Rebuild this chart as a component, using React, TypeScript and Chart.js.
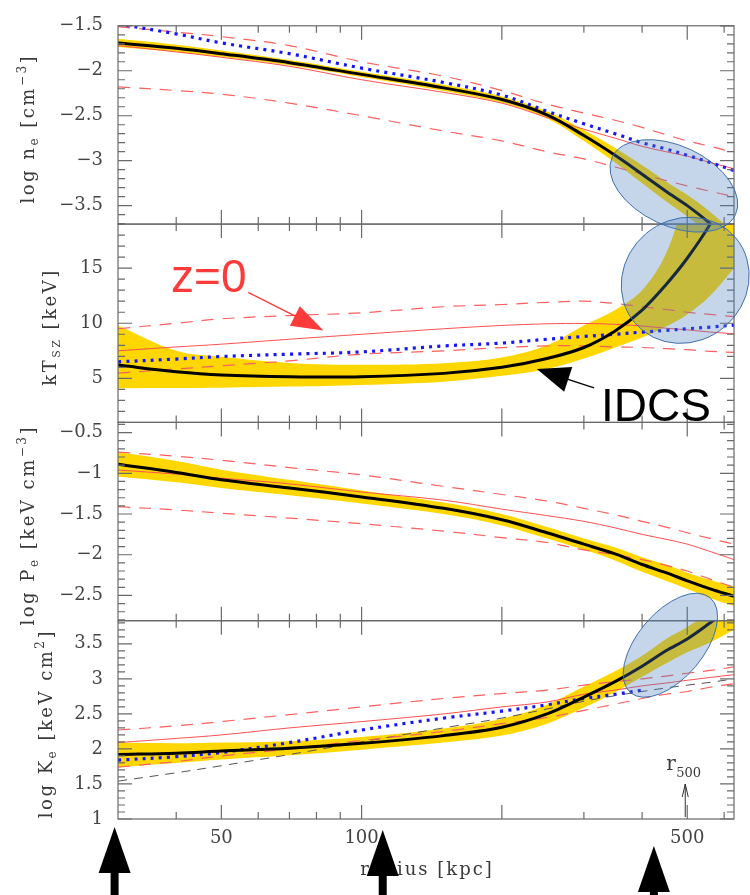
import React, { useEffect, useRef } from 'react';
import { Chart, registerables } from 'chart.js';

// clip every dataset to its own panel (stacked y axes share one chart area)
const panelClip = {
  id: 'panelClip',
  beforeDatasetDraw(chart: any, args: any) {
    const { xScale, yScale } = args.meta;
    const ctx = chart.ctx;
    ctx.save();
    ctx.beginPath();
    ctx.rect(xScale.left, yScale.top, xScale.right - xScale.left, yScale.bottom - yScale.top);
    ctx.clip();
  },
  afterDatasetDraw(chart: any) {
    chart.ctx.restore();
  },
};
Chart.register(panelClip);
Chart.register(...registerables);

const SERIF = '"DejaVu Serif", serif';
const SANS = '"Liberation Sans", Arial, sans-serif';

// ---------------- data ----------------
const radii = [30, 40, 50, 70, 100, 150, 200, 250, 300, 350, 400, 450, 500, 560, 630];

// panel 1: log n_e
const neIDCS = [-1.69, -1.75, -1.81, -1.91, -2.04, -2.19, -2.32, -2.49, -2.72, -2.94, -3.15, -3.34, -3.5, -3.7, -3.95];
const neBandHi = [-1.645, -1.71, -1.775, -1.88, -2.01, -2.155, -2.285, -2.45, -2.66, -2.86, -3.05, -3.23, -3.38, -3.57, -3.8];
const neBandLo = [-1.735, -1.79, -1.845, -1.94, -2.07, -2.225, -2.355, -2.53, -2.78, -3.02, -3.25, -3.45, -3.62, -3.83, -4.1];
const neBlue = [-1.48, -1.59, -1.69, -1.81, -1.97, -2.13, -2.27, -2.45, -2.59, -2.7, -2.8, -2.87, -2.94, -3.02, -3.11];
const neZ0 = [-1.72, -1.79, -1.85, -1.95, -2.1, -2.24, -2.36, -2.52, -2.65, -2.75, -2.84, -2.9, -2.95, -3.02, -3.09];
const neZ0Hi = [-1.51, -1.57, -1.62, -1.72, -1.9, -2.06, -2.22, -2.37, -2.47, -2.55, -2.63, -2.71, -2.78, -2.84, -2.91];
const neZ0Lo = [-2.18, -2.22, -2.26, -2.36, -2.5, -2.67, -2.78, -2.9, -2.98, -3.07, -3.15, -3.22, -3.28, -3.34, -3.4];

// panel 2: kT_SZ
const ktIDCS = [6.2, 5.6, 5.3, 5.14, 5.14, 5.45, 6.0, 6.8, 7.8, 9.3, 11.2, 13.5, 15.9, 19.0, 23.0];
const ktBandHi = [9.8, 7.5, 6.95, 6.4, 6.23, 6.38, 6.9, 8.0, 9.8, 11.2, 13.0, 16.3, 22, 27, 31];
const ktBandLo = [4.1, 4.12, 4.15, 4.25, 4.4, 4.7, 5.23, 5.85, 6.8, 7.8, 8.7, 9.7, 10.8, 12.5, 15.0];
const ktBlue = [6.5, 6.75, 6.98, 7.19, 7.4, 7.94, 8.2, 8.55, 8.8, 9.0, 9.2, 9.35, 9.5, 9.65, 9.83];
const ktZ0 = [7.5, 7.85, 8.1, 8.55, 9.0, 9.5, 9.8, 9.95, 9.98, 9.9, 9.75, 9.55, 9.4, 9.2, 9.05];
const ktZ0Hi = [9.5, 10.0, 10.4, 10.7, 10.95, 11.5, 11.7, 11.9, 12.0, 11.8, 11.5, 11.25, 11.0, 10.8, 10.6];
const ktZ0Lo = [5.48, 5.85, 6.14, 6.59, 7.19, 7.49, 7.79, 7.95, 7.95, 7.85, 7.8, 7.7, 7.6, 7.45, 7.35];

// panel 3: log P_e
const peIDCS = [-0.89, -0.99, -1.08, -1.18, -1.29, -1.43, -1.57, -1.73, -1.87, -1.99, -2.12, -2.22, -2.32, -2.42, -2.51];
const peBandHi = [-0.74, -0.85, -0.955, -1.08, -1.21, -1.36, -1.5, -1.66, -1.8, -1.91, -2.03, -2.12, -2.22, -2.31, -2.39];
const peBandLo = [-1.04, -1.11, -1.18, -1.27, -1.37, -1.5, -1.64, -1.8, -1.94, -2.07, -2.21, -2.32, -2.42, -2.53, -2.63];
const peZ0 = [-0.96, -1.01, -1.06, -1.13, -1.23, -1.33, -1.44, -1.52, -1.59, -1.67, -1.75, -1.81, -1.87, -1.96, -2.06];
const peZ0Hi = [-0.74, -0.79, -0.84, -0.93, -1.02, -1.16, -1.26, -1.34, -1.43, -1.51, -1.59, -1.66, -1.73, -1.8, -1.87];
const peZ0Lo = [-1.41, -1.45, -1.49, -1.55, -1.62, -1.71, -1.79, -1.85, -1.94, -2.0, -2.06, -2.13, -2.2, -2.3, -2.4];

// panel 4: log K_e
const keIDCS = [1.92, 1.94, 1.97, 2.01, 2.08, 2.19, 2.31, 2.5, 2.74, 2.96, 3.18, 3.4, 3.57, 3.8, 4.05];
const keBandHi = [2.09, 2.08, 2.09, 2.11, 2.17, 2.29, 2.43, 2.63, 2.89, 3.11, 3.33, 3.57, 3.74, 3.97, 4.25];
const keBandLo = [1.74, 1.8, 1.85, 1.91, 1.99, 2.09, 2.19, 2.36, 2.59, 2.81, 3.03, 3.22, 3.38, 3.52, 3.7];
const keBlue = [1.84, 1.89, 1.95, 2.09, 2.27, 2.44, 2.54, 2.63, 2.72, 2.78, 2.84, null, null, null, null];
const keZ0 = [2.09, 2.15, 2.2, 2.3, 2.39, 2.5, 2.6, 2.67, 2.78, 2.84, 2.9, 2.94, 2.98, 3.02, 3.06];
const keZ0Hi = [2.27, 2.33, 2.39, 2.49, 2.6, 2.72, 2.79, 2.84, 2.91, 2.96, 3.0, 3.04, 3.08, 3.12, 3.17];
const keZ0Lo = [1.74, 1.82, 1.9, 2.0, 2.12, 2.25, 2.36, 2.45, 2.55, 2.64, 2.72, 2.78, 2.82, 2.88, 2.93];
const keBase = [1.54, 1.66, 1.76, 1.92, 2.1, 2.3, 2.44, 2.57, 2.68, 2.76, 2.82, 2.87, 2.91, 2.95, 3.0];

// ticks
const xTickLabels = [50, 100, 500];
const xMajorMarks = [50, 100, 200, 500];
const xMinorMarks = [40, 60, 70, 80, 90, 300, 400, 600];
const neTicks = [-3.5, -3, -2.5, -2, -1.5];
const ktTicks = [5, 10, 15];
const peTicks = [-2.5, -2, -1.5, -1, -0.5];
const keTicks = [1, 1.5, 2, 2.5, 3, 3.5];

// ---------------- styles ----------------
const RED = 'rgb(255,80,80)';
const RED_D = 'rgb(255,95,95)';
const BLUE = '#1414ff';
const YELLOW = '#ffd700';
const DASH = [12, 9];
const DOT = [3, 5.2];
const TENSION = 0.35;

function pts(vals: (number | null)[]) {
  return radii.map((r, i) => ({ x: r, y: vals[i] })).filter((p) => p.y !== null);
}

function line(axis: string, vals: (number | null)[], color: string, width: number, dash: number[], order: number) {
  return {
    data: pts(vals), xAxisID: 'x', yAxisID: axis, borderColor: color, borderWidth: width,
    borderDash: dash, borderCapStyle: 'butt', pointRadius: 0, pointHoverRadius: 0, fill: false,
    order, tension: TENSION,
  };
}

function band(axis: string, lo: number[], hi: number[]) {
  const common = {
    xAxisID: 'x', yAxisID: axis, borderColor: 'rgba(0,0,0,0)', borderWidth: 0,
    pointRadius: 0, pointHoverRadius: 0, order: 10, tension: TENSION,
  };
  return [
    { ...common, data: pts(lo), fill: false },
    { ...common, data: pts(hi), fill: '-1', backgroundColor: YELLOW },
  ];
}

const datasets: any[] = [
  ...band('yN', neBandLo, neBandHi),
  line('yN', neZ0Hi, RED_D, 1.2, DASH, 3),
  line('yN', neZ0Lo, RED_D, 1.2, DASH, 3),
  line('yN', neZ0, RED, 1, [], 3),
  line('yN', neBlue, BLUE, 3.2, DOT, 2),
  line('yN', neIDCS, '#000', 3, [], 1),

  ...band('yT', ktBandLo, ktBandHi),
  line('yT', ktZ0Hi, RED_D, 1.2, DASH, 3),
  line('yT', ktZ0Lo, RED_D, 1.2, DASH, 3),
  line('yT', ktZ0, RED, 1, [], 3),
  line('yT', ktBlue, BLUE, 3.2, DOT, 2),
  line('yT', ktIDCS, '#000', 3, [], 1),

  ...band('yP', peBandLo, peBandHi),
  line('yP', peZ0Hi, RED_D, 1.2, DASH, 3),
  line('yP', peZ0Lo, RED_D, 1.2, DASH, 3),
  line('yP', peZ0, RED, 1, [], 3),
  line('yP', peIDCS, '#000', 3, [], 1),

  ...band('yK', keBandLo, keBandHi),
  line('yK', keZ0Hi, RED_D, 1.2, DASH, 3),
  line('yK', keZ0Lo, RED_D, 1.2, DASH, 3),
  line('yK', keZ0, RED, 1, [], 3),
  line('yK', keBase, '#555', 1, [9, 7], 3),
  line('yK', keBlue, BLUE, 3.2, DOT, 2),
  line('yK', keIDCS, '#000', 3, [], 1),
];

const panelDefs = [
  {
    axis: 'yN', minor: 0.1, ticks: neTicks, titleX: 34,
    title: [{ t: 'log n', s: 18 }, { t: 'e', s: 12, dy: 4 }, { t: ' [cm', s: 18 }, { t: '−3', s: 12, dy: -8 }, { t: ']', s: 18 }],
  },
  {
    axis: 'yT', minor: 1, ticks: ktTicks, titleX: 56,
    title: [{ t: 'kT', s: 18 }, { t: 'SZ', s: 11, dy: 4 }, { t: ' [keV]', s: 18 }],
  },
  {
    axis: 'yP', minor: 0.1, ticks: peTicks, titleX: 34,
    title: [{ t: 'log P', s: 18 }, { t: 'e', s: 12, dy: 4 }, { t: ' [keV cm', s: 18 }, { t: '−3', s: 12, dy: -8 }, { t: ']', s: 18 }],
  },
  {
    axis: 'yK', minor: 0.1, ticks: keTicks, titleX: 52,
    title: [{ t: 'log K', s: 18 }, { t: 'e', s: 12, dy: 4 }, { t: ' [keV cm', s: 18 }, { t: '2', s: 12, dy: -8 }, { t: ']', s: 18 }],
  },
];

const ellipses = [
  { axis: 'yN', r: 468, v: -3.28, a: 68, b: 40, rot: 25 },
  { axis: 'yT', r: 495, v: 13.9, a: 66, b: 61, rot: -40 },
  { axis: 'yK', r: 460, v: 3.48, a: 62, b: 33, rot: -50 },
];

function drawRich(ctx: CanvasRenderingContext2D, parts: any[], cx: number, cy: number, rotate: boolean, ls: number, color: string) {
  ctx.save();
  ctx.translate(cx, cy);
  if (rotate) ctx.rotate(-Math.PI / 2);
  ctx.fillStyle = color;
  ctx.textBaseline = 'alphabetic';
  ctx.textAlign = 'left';
  let total = 0;
  for (const p of parts) {
    ctx.font = `${p.s}px ${SERIF}`;
    for (const ch of p.t) total += ctx.measureText(ch).width + ls;
  }
  total -= ls;
  let x = -total / 2;
  for (const p of parts) {
    ctx.font = `${p.s}px ${SERIF}`;
    for (const ch of p.t) {
      ctx.fillText(ch, x, p.dy || 0);
      x += ctx.measureText(ch).width + ls;
    }
  }
  ctx.restore();
}

function arrow(ctx: CanvasRenderingContext2D, x0: number, y0: number, x1: number, y1: number, head: number, half: number, color: string, lw: number) {
  const dx = x1 - x0, dy = y1 - y0;
  const L = Math.hypot(dx, dy);
  const ux = dx / L, uy = dy / L;
  const bx = x1 - ux * head, by = y1 - uy * head;
  ctx.save();
  ctx.strokeStyle = color;
  ctx.lineWidth = lw;
  ctx.beginPath();
  ctx.moveTo(x0, y0);
  ctx.lineTo(bx + ux, by + uy);
  ctx.stroke();
  ctx.fillStyle = color;
  ctx.beginPath();
  ctx.moveTo(x1, y1);
  ctx.lineTo(bx - uy * half, by + ux * half);
  ctx.lineTo(bx + uy * half, by - ux * half);
  ctx.closePath();
  ctx.fill();
  ctx.restore();
}

const decor = {
  id: 'decor',
  afterDatasetsDraw(chart: any) {
    const ctx: CanvasRenderingContext2D = chart.ctx;
    const xs = chart.scales.x;
    const FRAME = '#6a6a6a';
    // frames + inward tick marks
    for (const p of panelDefs) {
      const ys = chart.scales[p.axis];
      const L = xs.left, R = xs.right, T = ys.top, B = ys.bottom;
      ctx.save();
      ctx.strokeStyle = FRAME;
      ctx.lineWidth = 1.2;
      ctx.strokeRect(L, T, R - L, B - T);
      ctx.beginPath();
      const xm = (v: number, len: number) => {
        const px = xs.getPixelForValue(v);
        ctx.moveTo(px, B); ctx.lineTo(px, B - len);
        ctx.moveTo(px, T); ctx.lineTo(px, T + len);
      };
      xMajorMarks.forEach((v) => xm(v, 14));
      xMinorMarks.forEach((v) => xm(v, 7));
      const min = ys.min, max = ys.max, st = p.minor;
      for (let k = Math.ceil(min / st - 1e-9); k * st <= max + 1e-9; k++) {
        const v = k * st;
        const major = p.ticks.some((t) => Math.abs(t - v) < 1e-6);
        const len = major ? 14 : 7;
        const py = ys.getPixelForValue(v);
        ctx.moveTo(L, py); ctx.lineTo(L + len, py);
        ctx.moveTo(R, py); ctx.lineTo(R - len, py);
      }
      ctx.stroke();
      ctx.restore();
    }
    // ellipses
    for (const e of ellipses) {
      const ys = chart.scales[e.axis];
      const cx = xs.getPixelForValue(e.r), cy = ys.getPixelForValue(e.v);
      ctx.save();
      ctx.beginPath();
      ctx.ellipse(cx, cy, e.a, e.b, (e.rot * Math.PI) / 180, 0, Math.PI * 2);
      ctx.fillStyle = 'rgba(79,129,189,0.32)';
      ctx.fill();
      ctx.strokeStyle = 'rgba(55,105,170,0.95)';
      ctx.lineWidth = 1;
      ctx.stroke();
      ctx.restore();
    }
    // annotations in panel 2
    const yT = chart.scales.yT;
    const X = (r: number) => xs.getPixelForValue(r);
    ctx.save();
    ctx.fillStyle = '#ff3a3a';
    ctx.font = `46px ${SANS}`;
    ctx.textAlign = 'left';
    ctx.textBaseline = 'alphabetic';
    ctx.fillText('z=0', X(39), yT.getPixelForValue(12.8));
    ctx.fillStyle = '#000';
    ctx.fillText('IDCS', X(326.6), yT.getPixelForValue(1.15));
    ctx.restore();
    arrow(ctx, X(57.1), yT.getPixelForValue(12.8), X(82.8), yT.getPixelForValue(9.35), 32, 11, '#ff3a3a', 1.3);
    arrow(ctx, X(315.5), yT.getPixelForValue(4.13), X(237.8), yT.getPixelForValue(5.84), 33, 13, '#000', 1.3);
  },
  afterDraw(chart: any) {
    const ctx: CanvasRenderingContext2D = chart.ctx;
    const xs = chart.scales.x;
    const TXT = '#3a3a3a';
    for (const p of panelDefs) {
      const ys = chart.scales[p.axis];
      drawRich(ctx, p.title, p.titleX, (ys.top + ys.bottom) / 2 + 5, true, 2.5, TXT);
    }
    drawRich(ctx, [{ t: 'radius [kpc]', s: 18 }], (xs.left + xs.right) / 2, 875, false, 2, TXT);
    // r500 marker
    const x500 = xs.getPixelForValue(500) - 2;
    ctx.save();
    ctx.fillStyle = TXT;
    ctx.font = `20px ${SERIF}`;
    ctx.textBaseline = 'alphabetic';
    ctx.fillText('r', x500 - 19, 770);
    ctx.font = `13px ${SERIF}`;
    ctx.fillText('500', x500 - 9, 777);
    ctx.strokeStyle = '#333';
    ctx.lineWidth = 1;
    ctx.beginPath();
    ctx.moveTo(x500, xs.top - 2);
    ctx.lineTo(x500, 784);
    ctx.moveTo(x500 - 3, 797);
    ctx.lineTo(x500, 784);
    ctx.lineTo(x500 + 3, 797);
    ctx.stroke();
    ctx.restore();
    // big arrows below the axis
    const big = [
      { r: 29.5, tip: 827 },
      { r: 111, tip: 830 },
      { r: 424, tip: 846 },
    ];
    for (const b of big) {
      const x = xs.getPixelForValue(b.r);
      arrow(ctx, x, 900, x, b.tip, 46, 16, '#000', 8);
    }
  },
};

const fmt = (v: number) => (v < 0 ? '−' + String(Math.abs(v)) : String(v));

function yScale(min: number, max: number, ticks: number[]) {
  return {
    type: 'linear', position: 'left', stack: 'panels', stackWeight: 1, offset: false, min, max,
    grid: { display: false, drawTicks: false }, border: { display: false },
    ticks: { font: { family: SERIF, size: 18 }, color: '#444', padding: 15, autoSkip: false, callback: fmt },
    afterBuildTicks: (s: any) => { s.ticks = ticks.map((v) => ({ value: v })); },
    afterFit: (s: any) => { s.width = 118; },
  };
}

export default function App() {
  const ref = useRef<HTMLCanvasElement>(null);
  useEffect(() => {
    const chart = new Chart(ref.current as HTMLCanvasElement, {
      type: 'line',
      data: { datasets },
      options: {
        animation: false,
        responsive: false,
        events: [],
        layout: { padding: { left: 0, right: 16, top: 19, bottom: 0 } },
        plugins: { legend: { display: false }, tooltip: { enabled: false } },
        scales: {
          x: {
            type: 'logarithmic', position: 'bottom', min: 30, max: 630,
            grid: { display: false, drawTicks: false }, border: { display: false },
            ticks: { font: { family: SERIF, size: 18 }, color: '#444', padding: 9, autoSkip: false, maxRotation: 0, callback: (v: any) => String(v) },
            afterBuildTicks: (s: any) => { s.ticks = xTickLabels.map((v) => ({ value: v })); },
            afterFit: (s: any) => { s.height = 76; },
          },
          yK: yScale(1, 3.83, keTicks),
          yP: yScale(-2.81, -0.375, peTicks),
          yT: yScale(1, 19, ktTicks),
          yN: yScale(-3.705, -1.5, neTicks),
        },
      } as any,
      plugins: [decor],
    } as any);
    return () => chart.destroy();
  }, []);
  return (
    <div style={{ position: 'absolute', left: 0, top: 0, width: 750, height: 895, background: '#fff' }}>
      <canvas ref={ref} width={750} height={895} style={{ display: 'block', width: 750, height: 895 }} />
    </div>
  );
}
